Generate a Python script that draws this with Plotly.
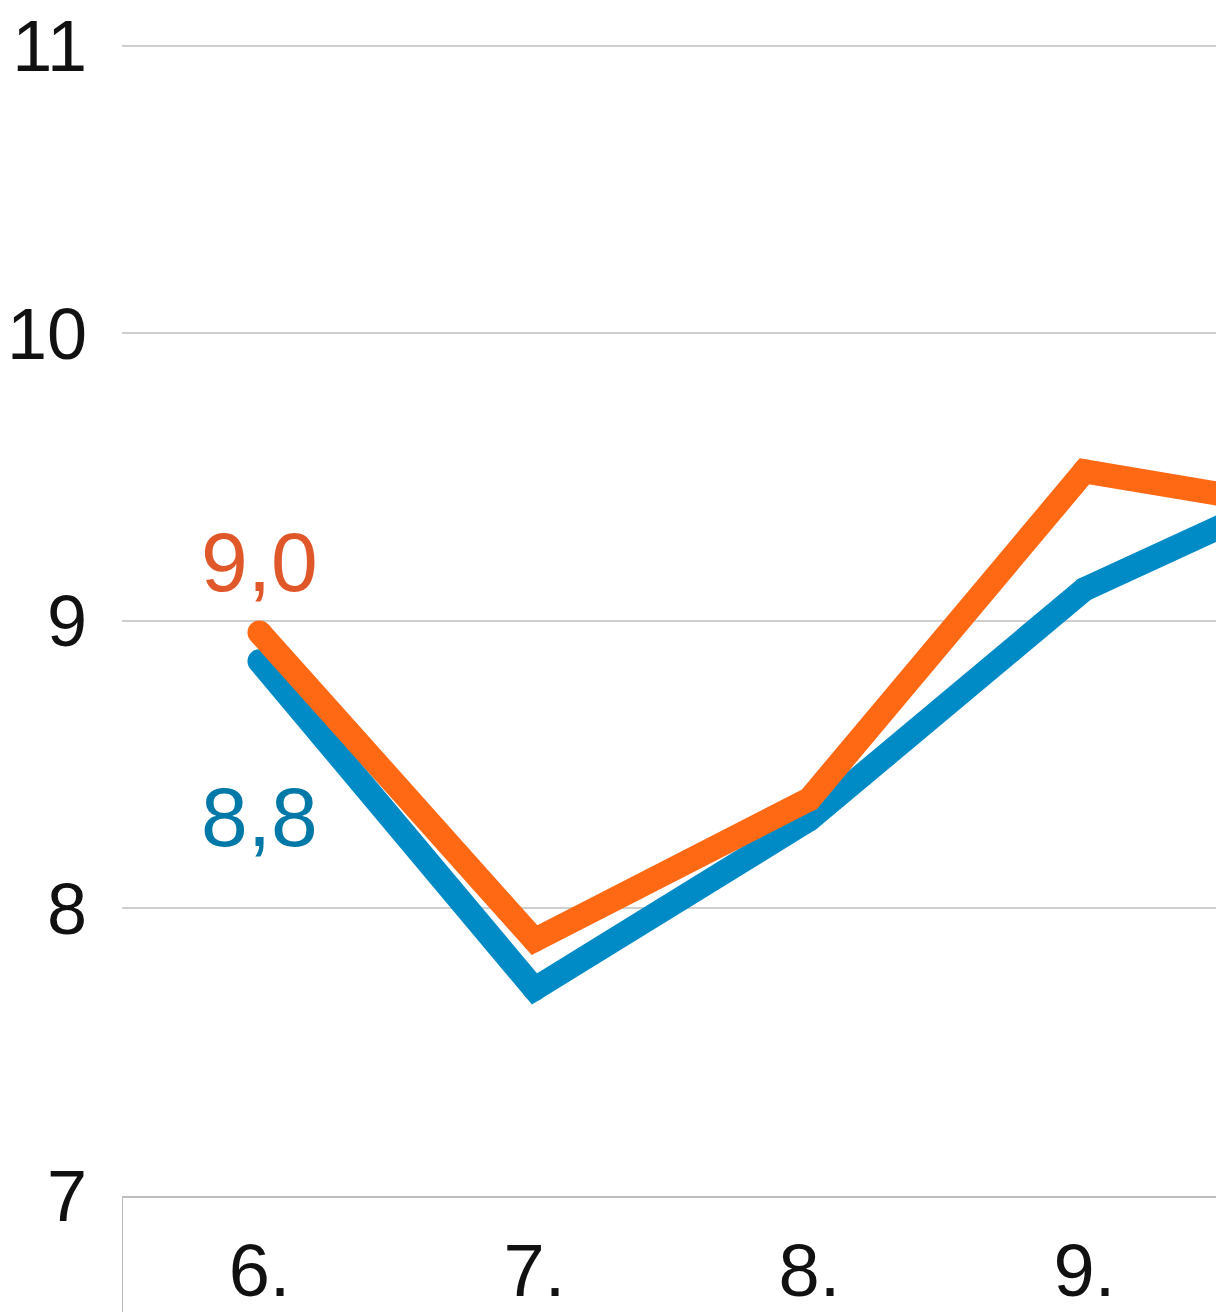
import plotly.graph_objects as go

categories = ["6.", "7.", "8.", "9.", "10."]
x_idx = [0, 1, 2, 3, 4]
orange_vals = [8.96, 7.89, 8.38, 9.52, 9.36]
blue_vals = [8.86, 7.72, 8.31, 9.11, 9.55]
orange_label = "9,0"
blue_label = "8,8"
y_ticks = [7, 8, 9, 10, 11]

ORANGE = "#FF6914"
BLUE = "#008BC6"
ORANGE_TXT = "#E0582A"
BLUE_TXT = "#0078A8"
FONT = "Liberation Sans, Arial, sans-serif"
LW = 24

fig = go.Figure()
fig.add_trace(go.Scatter(x=x_idx, y=blue_vals, mode="lines+markers",
                         line=dict(color=BLUE, width=LW),
                         marker=dict(color=BLUE, size=LW, line=dict(width=0)),
                         showlegend=False))
fig.add_trace(go.Scatter(x=x_idx, y=orange_vals, mode="lines+markers",
                         line=dict(color=ORANGE, width=LW),
                         marker=dict(color=ORANGE, size=LW, line=dict(width=0)),
                         showlegend=False))

fig.add_annotation(x=x_idx[0], y=orange_vals[0], text=orange_label, showarrow=False,
                   yshift=70, font=dict(family=FONT, size=84, color=ORANGE_TXT))
fig.add_annotation(x=x_idx[0], y=blue_vals[0], text=blue_label, showarrow=False,
                   yshift=-156, font=dict(family=FONT, size=84, color=BLUE_TXT))

# category boundary tick at left edge below the axis
fig.add_shape(type="line", xref="x", yref="paper", x0=-0.5, x1=-0.5, y0=0, y1=-0.1003,
              line=dict(color="#BDBDBD", width=2))

fig.update_layout(
    width=1216, height=1304,
    margin=dict(l=114, r=7, t=32, b=116, autoexpand=False),
    paper_bgcolor="white", plot_bgcolor="white",
    font=dict(family=FONT, color="#111111"),
)
fig.update_xaxes(range=[-0.5, 3.482], tickvals=x_idx, ticktext=categories,
                 showgrid=False, zeroline=False, showline=True, linecolor="#BDBDBD",
                 linewidth=2, ticks="", tickfont=dict(size=74, family=FONT, color="#111111"),
                 ticklabelstandoff=9, automargin=False, ticklabeloverflow="allow")
fig.update_yaxes(range=[7, 11.02], tickvals=y_ticks, ticktext=[str(v) for v in y_ticks],
                 showgrid=True, gridcolor="#CFCFCF", gridwidth=2, zeroline=False,
                 showline=False, ticks="", tickfont=dict(size=72, family=FONT, color="#111111"),
                 ticklabelstandoff=34, automargin=False, ticklabeloverflow="allow")

fig.write_html("out.html")
